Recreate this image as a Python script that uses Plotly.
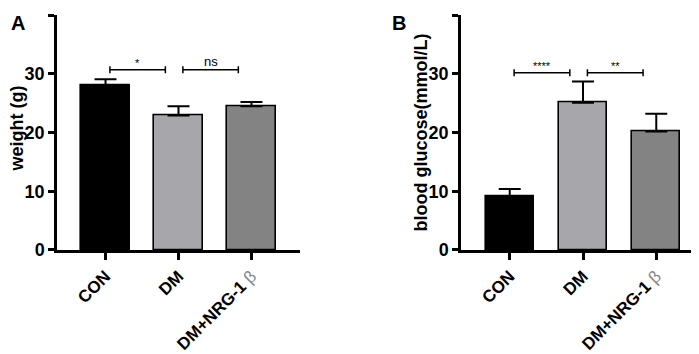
import plotly.graph_objects as go

categories = ["CON", "DM", "DM+NRG-1 β"]
weight_mean = [28.1, 22.9, 24.5]
weight_sd = [1.0, 1.6, 0.7]
glucose_mean = [9.2, 25.1, 20.2]
glucose_sd = [1.2, 3.6, 3.0]
bar_colors = ["#000000", "#a7a7ab", "#838383"]
y_ticks = [0, 10, 20, 30, 40]
y_titles = ["weight (g)", "blood glucose(mmol/L)"]
# significance comparisons: (from index, to index, y level, label)
sig_weight = [(0, 1, 30.7, "*"), (1, 2, 30.7, "ns")]
sig_glucose = [(0, 1, 30.2, "****"), (1, 2, 30.2, "**")]

FONT = "Liberation Sans, Arial, sans-serif"

def fmt_cat(c):
    if c.endswith("β"):
        return "<b>" + c[:-2] + "</b> <span style='font-weight:normal;fill:#888'>β</span>"
    return "<b>" + c + "</b>"

tick_text = [fmt_cat(c) for c in categories]
y_tick_text = ["<b>%d</b>" % v for v in y_ticks]
xs = list(range(len(categories)))

W, H = 699, 354
def px_x(a, b):
    return [a / W, b / W]
ydom = [(H - 249) / H, (H - 7.5) / H]

fig = go.Figure()
for means, sds, xa, ya in [(weight_mean, weight_sd, "x", "y"),
                           (glucose_mean, glucose_sd, "x2", "y2")]:
    fig.add_trace(go.Bar(
        x=xs, y=means, width=0.66,
        marker=dict(color=bar_colors, line=dict(color="black", width=1.6)),
        error_y=dict(type="data", symmetric=False, array=sds, arrayminus=[0] * 3,
                     color="black", thickness=2, width=11),
        xaxis=xa, yaxis=ya, showlegend=False, hoverinfo="skip"))

shapes = []
annotations = []
for sig, xr, yr in [(sig_weight, "x", "y"), (sig_glucose, "x2", "y2")]:
    for a, b, lvl, lab in sig:
        x0, x1 = a + 0.06, b - 0.18
        shapes.append(dict(type="line", xref=xr, yref=yr, x0=x0, x1=x1, y0=lvl, y1=lvl,
                           line=dict(color="black", width=1.5)))
        for xx in (x0, x1):
            shapes.append(dict(type="line", xref=xr, yref=yr, x0=xx, x1=xx,
                               y0=lvl - 0.6, y1=lvl + 0.6, line=dict(color="black", width=1.5)))
        annotations.append(dict(xref=xr, yref=yr, x=(x0 + x1) / 2, y=lvl, text=lab,
                                showarrow=False, yanchor="bottom", yshift=-1,
                                font=dict(family=FONT, size=11 if lab != "ns" else 13, color="black")))

for letter, xpx in (("A", 1), ("B", 382)):
    annotations.append(dict(xref="paper", yref="paper", x=xpx / W, y=1 - 2 / H,
                            text="<b>%s</b>" % letter, showarrow=False,
                            xanchor="left", yanchor="top",
                            font=dict(family=FONT, size=20, color="black")))

for title, xc, yc in ((y_titles[0], 9, 124), (y_titles[1], 413, 128)):
    annotations.append(dict(xref="paper", yref="paper", x=xc / W, y=1 - yc / H,
                            text="<b>%s</b>" % title, showarrow=False, textangle=-90,
                            xanchor="center", yanchor="middle",
                            font=dict(family=FONT, size=18, color="black")))

xcommon = dict(range=[-0.665, 2.665], tickmode="array", tickvals=xs, ticktext=tick_text,
               tickangle=-45, ticks="outside", ticklen=7, tickwidth=2.5, tickcolor="black",
               showline=True, linecolor="black", linewidth=2.5, showgrid=False, zeroline=False,
               tickfont=dict(family=FONT, size=17, color="black"))
ycommon = dict(range=[0, 40], tickmode="array", tickvals=y_ticks, ticktext=y_tick_text,
               ticks="outside", ticklen=6,
               tickwidth=2.5, tickcolor="black", showline=True, linecolor="black", linewidth=2.5,
               showgrid=False, zeroline=False,
               tickfont=dict(family=FONT, size=18, color="black"))

fig.update_layout(
    width=W, height=H, margin=dict(l=0, r=0, t=0, b=0),
    plot_bgcolor="white", paper_bgcolor="white", bargap=0,
    xaxis=dict(domain=px_x(49, 292), anchor="y", **xcommon),
    yaxis=dict(domain=ydom, anchor="x", **ycommon),
    xaxis2=dict(domain=px_x(453, 697), anchor="y2", **xcommon),
    yaxis2=dict(domain=ydom, anchor="x2", **ycommon),
    shapes=shapes, annotations=annotations,
)
fig.write_html("out.html")
